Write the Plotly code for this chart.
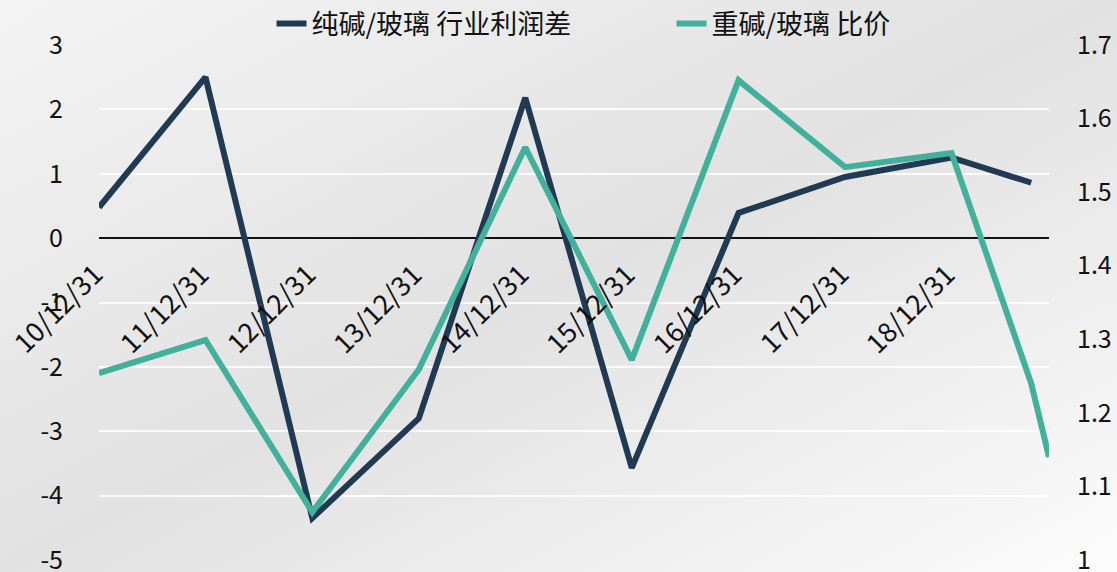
import plotly.graph_objects as go
import urllib.parse

# ---- data ----
dates = ["2010-12-31", "2011-12-31", "2012-12-31", "2013-12-31", "2014-12-31",
         "2015-12-31", "2016-12-31", "2017-12-31", "2018-12-31",
         "2019-09-30", "2019-11-30"]
profit_diff = [0.48, 2.50, -4.35, -2.80, 2.18, -3.57, 0.39, 0.95, 1.25, 0.86, None]
price_ratio = [1.254, 1.299, 1.065, 1.259, 1.561, 1.272, 1.652, 1.534, 1.553, 1.24, 1.14]
tick_dates = ["2010-12-31", "2011-12-31", "2012-12-31", "2013-12-31", "2014-12-31",
              "2015-12-31", "2016-12-31", "2017-12-31", "2018-12-31"]
tick_labels = ["10/12/31", "11/12/31", "12/12/31", "13/12/31", "14/12/31",
               "15/12/31", "16/12/31", "17/12/31", "18/12/31"]
left_ticks = [-5, -4, -3, -2, -1, 0, 1, 2, 3]
left_tick_text = ["-5", "-4", "-3", "-2", "-1", "0", "1", "2", "3"]
right_ticks = [1.0, 1.1, 1.2, 1.3, 1.4, 1.5, 1.6, 1.7]
right_tick_text = ["1", "1.1", "1.2", "1.3", "1.4", "1.5", "1.6", "1.7"]
name_profit = "纯碱/玻璃 行业利润差"
name_ratio = "重碱/玻璃 比价"

FONT = "Noto Sans CJK SC"
DARK = "#203a53"
TEAL = "#42b19c"

fig = go.Figure()
fig.add_trace(go.Scatter(x=dates, y=profit_diff, name=name_profit, mode="lines",
                         line=dict(color=DARK, width=6), connectgaps=False, yaxis="y"))
fig.add_trace(go.Scatter(x=dates, y=price_ratio, name=name_ratio, mode="lines",
                         line=dict(color=TEAL, width=6), yaxis="y2"))

# gradient background as svg image
svg = ('<svg xmlns="http://www.w3.org/2000/svg" width="1117" height="572">'
       '<defs><linearGradient id="g" x1="0" y1="0" x2="1" y2="1">'
       '<stop offset="0" stop-color="#f4f4f4"/>'
       '<stop offset="0.5" stop-color="#e2e2e2"/>'
       '<stop offset="1" stop-color="#fcfcfc"/>'
       '</linearGradient></defs>'
       '<rect width="1117" height="572" fill="url(#g)"/></svg>')
src = "data:image/svg+xml;charset=utf-8," + urllib.parse.quote(svg)

annotations = []
for d, t in zip(tick_dates, tick_labels):
    annotations.append(dict(x=d, y=0, xref="x", yref="y", text=t, showarrow=False,
                            textangle=-45, xanchor="right", yanchor="top",
                            xshift=14, yshift=-14,
                            font=dict(family=FONT, size=27, color="#111111")))

fig.update_layout(
    width=1117, height=572,
    margin=dict(l=99, r=68, t=45, b=12, autoexpand=False),
    paper_bgcolor="#e9e9e9",
    plot_bgcolor="rgba(0,0,0,0)",
    font=dict(family=FONT, size=25, color="#111111"),
    images=[dict(source=src, xref="paper", yref="paper", x=-99/950, y=1+45/515,
                 sizex=1117/950, sizey=572/515, xanchor="left", yanchor="top",
                 sizing="stretch", layer="below")],
    xaxis=dict(type="date", range=["2010-12-31", "2019-11-30"], showticklabels=False,
               showgrid=False, zeroline=False, showline=False, ticks=""),
    yaxis=dict(range=[-5, 3], tickmode="array", tickvals=left_ticks, ticktext=left_tick_text,
               showgrid=True, gridcolor="rgba(255,255,255,0.85)",
               gridwidth=2, zeroline=True, zerolinecolor="#111111", zerolinewidth=1.5,
               showline=False, ticks="outside", ticklen=30, tickcolor="rgba(0,0,0,0)",
               ticklabeloverflow="allow",
               tickfont=dict(family=FONT, size=25, color="#111111")),
    yaxis2=dict(range=[1, 1.7], tickmode="array", tickvals=right_ticks, ticktext=right_tick_text,
                overlaying="y", side="right", showgrid=False,
                zeroline=False, showline=False, ticks="outside", ticklen=22,
                tickcolor="rgba(0,0,0,0)", ticklabeloverflow="allow",
                tickfont=dict(family=FONT, size=25, color="#111111")),
    legend=dict(orientation="h", x=0.1816, xanchor="left", y=1 + 21/515, yanchor="middle",
                bgcolor="rgba(0,0,0,0)", font=dict(family=FONT, size=27, color="#111111"),
                entrywidth=355, entrywidthmode="pixels"),
    annotations=annotations,
    showlegend=True,
)

fig.write_html("out.html")
